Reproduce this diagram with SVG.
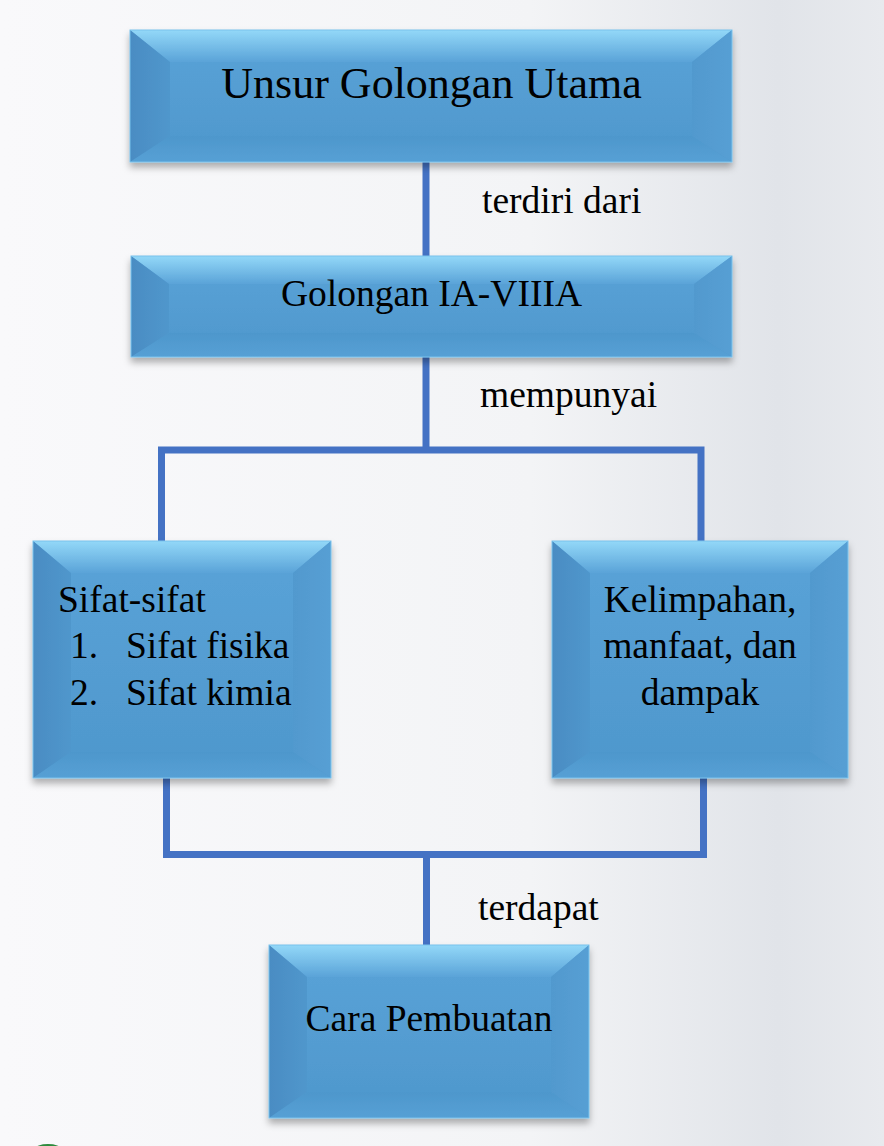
<svg xmlns="http://www.w3.org/2000/svg" width="884" height="1146" viewBox="0 0 884 1146">
<defs>
<linearGradient id="bg" x1="0" y1="0" x2="1" y2="0">
<stop offset="0" stop-color="#f9f9fb"/>
<stop offset="0.6" stop-color="#f3f4f6"/>
<stop offset="0.88" stop-color="#e1e4e9"/>
<stop offset="1" stop-color="#e8eaee"/>
</linearGradient>
<linearGradient id="face" x1="0" y1="0" x2="0" y2="1">
<stop offset="0" stop-color="#5aa3d8"/>
<stop offset="1" stop-color="#4e97cc"/>
</linearGradient>
<linearGradient id="top" x1="0" y1="0" x2="0" y2="1">
<stop offset="0" stop-color="#93d8f8"/>
<stop offset="1" stop-color="#5aa3d8"/>
</linearGradient>
<linearGradient id="left" x1="0" y1="0" x2="1" y2="0">
<stop offset="0" stop-color="#4a8cc3"/>
<stop offset="1" stop-color="#5097cc"/>
</linearGradient>
<linearGradient id="right" x1="0" y1="0" x2="1" y2="0">
<stop offset="0" stop-color="#5199ce"/>
<stop offset="1" stop-color="#579fd4"/>
</linearGradient>
<linearGradient id="bottom" x1="0" y1="0" x2="0" y2="1">
<stop offset="0" stop-color="#4e97cc"/>
<stop offset="1" stop-color="#56a0d5"/>
</linearGradient>
<filter id="sh" x="-10%" y="-10%" width="120%" height="130%">
<feDropShadow dx="0" dy="5" stdDeviation="3.5" flood-color="#000" flood-opacity="0.3"/>
</filter>
</defs>
<style>
.t{font-family:"Liberation Serif","Times New Roman",Times,serif;font-size:37.5px;fill:#000}
.title{font-size:44px}
.c{text-anchor:middle}
.edge{fill:none;stroke:#4472c4;stroke-width:7;stroke-linejoin:miter;stroke-linecap:butt}
.rim{fill:none;stroke:#78c2ec;stroke-width:1}
</style>
<rect x="0" y="0" width="884" height="1146" fill="url(#bg)"/>
<ellipse cx="48" cy="1149" rx="13" ry="5" fill="#2e8b3e"/>

<g id="connectors">
<path class="edge" d="M426,162 V256"/>
<path class="edge" d="M426,357 V450"/>
<path class="edge" d="M161.5,541 V450 H701 V541"/>
<path class="edge" d="M166.5,778 V854.5 H703.5 V778"/>
<path class="edge" d="M426.5,854.5 V945"/>
</g>

<g id="n1">
<g filter="url(#sh)">
<rect x="130" y="30" width="602" height="132" fill="url(#face)"/>
<polygon points="130,30 732,30 692,62 170,62" fill="url(#top)"/>
<polygon points="130,30 170,62 170,136 130,162" fill="url(#left)"/>
<polygon points="732,30 692,62 692,136 732,162" fill="url(#right)"/>
<polygon points="130,162 170,136 692,136 732,162" fill="url(#bottom)"/>
<rect class="rim" x="130" y="30" width="602" height="132"/>
</g>
<text class="t title c" x="431.5" y="98">Unsur Golongan Utama</text>
</g>

<g id="n2">
<g filter="url(#sh)">
<rect x="131" y="256" width="601" height="101" fill="url(#face)"/>
<polygon points="131,256 732,256 694,284 169,284" fill="url(#top)"/>
<polygon points="131,256 169,284 169,333 131,357" fill="url(#left)"/>
<polygon points="732,256 694,284 694,333 732,357" fill="url(#right)"/>
<polygon points="131,357 169,333 694,333 732,357" fill="url(#bottom)"/>
<rect class="rim" x="131" y="256" width="601" height="101"/>
</g>
<text class="t c" x="431.5" y="306">Golongan IA-VIIIA</text>
</g>

<g id="n3">
<g filter="url(#sh)">
<rect x="33" y="541" width="298" height="237" fill="url(#face)"/>
<polygon points="33,541 331,541 293,573 71,573" fill="url(#top)"/>
<polygon points="33,541 71,573 71,752 33,778" fill="url(#left)"/>
<polygon points="331,541 293,573 293,752 331,778" fill="url(#right)"/>
<polygon points="33,778 71,752 293,752 331,778" fill="url(#bottom)"/>
<rect class="rim" x="33" y="541" width="298" height="237"/>
</g>
<text class="t" x="58" y="612">Sifat-sifat</text>
<text class="t" x="70" y="658">1.</text>
<text class="t" x="126" y="658">Sifat fisika</text>
<text class="t" x="70" y="705">2.</text>
<text class="t" x="126" y="705">Sifat kimia</text>
</g>

<g id="n4">
<g filter="url(#sh)">
<rect x="552" y="541" width="296" height="237" fill="url(#face)"/>
<polygon points="552,541 848,541 810,573 590,573" fill="url(#top)"/>
<polygon points="552,541 590,573 590,752 552,778" fill="url(#left)"/>
<polygon points="848,541 810,573 810,752 848,778" fill="url(#right)"/>
<polygon points="552,778 590,752 810,752 848,778" fill="url(#bottom)"/>
<rect class="rim" x="552" y="541" width="296" height="237"/>
</g>
<text class="t c" x="700" y="612">Kelimpahan,</text>
<text class="t c" x="700" y="658">manfaat, dan</text>
<text class="t c" x="700" y="705">dampak</text>
</g>

<g id="n5">
<g filter="url(#sh)">
<rect x="269" y="945" width="320" height="173" fill="url(#face)"/>
<polygon points="269,945 589,945 551,977 307,977" fill="url(#top)"/>
<polygon points="269,945 307,977 307,1092 269,1118" fill="url(#left)"/>
<polygon points="589,945 551,977 551,1092 589,1118" fill="url(#right)"/>
<polygon points="269,1118 307,1092 551,1092 589,1118" fill="url(#bottom)"/>
<rect class="rim" x="269" y="945" width="320" height="173"/>
</g>
<text class="t c" x="429" y="1031">Cara Pembuatan</text>
</g>

<g id="labels">
<text class="t" x="482" y="213">terdiri dari</text>
<text class="t" x="480" y="407">mempunyai</text>
<text class="t" x="478" y="920">terdapat</text>
</g>
</svg>
